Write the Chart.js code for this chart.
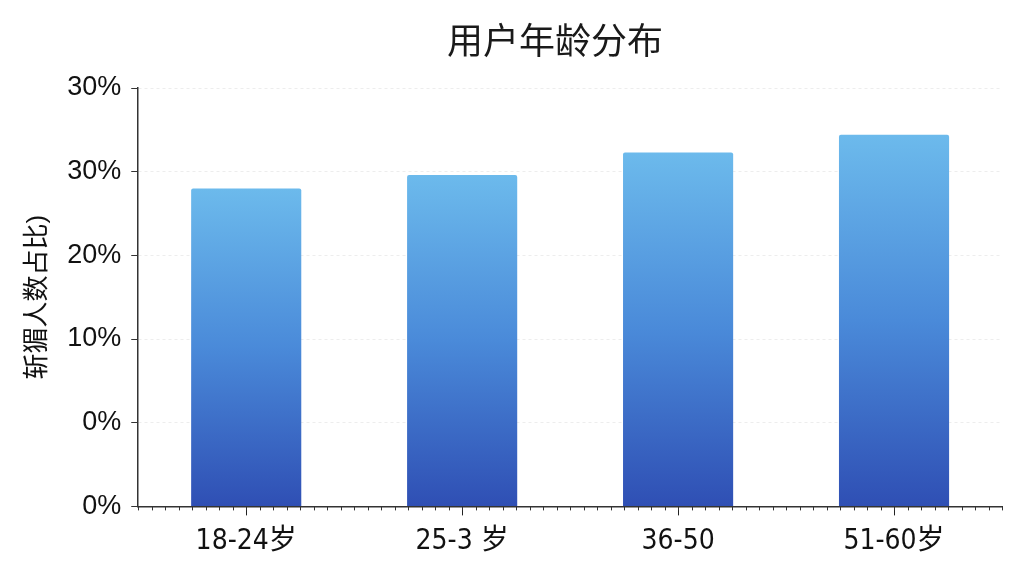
<!DOCTYPE html>
<html>
<head>
<meta charset="utf-8">
<script src="https://cdn.jsdelivr.net/npm/chart.js@4.4.1/dist/chart.umd.min.js"></script>
<style>
  html, body { margin: 0; padding: 0; background: #fff; }
  #wrap { position: relative; width: 1024px; height: 576px; }
  #title {
    position: absolute; top: 20px; left: 0; width: 1110px; text-align: center;
    font-family: "Liberation Sans", "Noto Sans CJK SC", sans-serif;
    font-size: 36px; line-height: 44px; color: #1a1a1a;
  }
</style>
</head>
<body>
<div id="wrap">
  <div id="title">用户年龄分布</div>
  <canvas id="chart" width="1024" height="576"></canvas>
</div>
<script>
const categories = ["18-24岁", "25-3 岁", "36-50", "51-60岁"];
const shares = [28.0, 29.6, 32.3, 34.4];
const yTickLabels = ["0%", "0%", "10%", "20%", "30%", "30%"];
const yTitle = "斩猸人数占比)";

const fontFamily = '"Liberation Sans", "Noto Sans CJK SC", sans-serif';

function barGradient(context) {
  const chart = context.chart;
  const y = chart.scales.y;
  if (!y || !chart.chartArea) return '#4a88d8';
  const top = y.getPixelForValue(context.raw);
  const bottom = y.getPixelForValue(-10);
  if (!isFinite(top) || !isFinite(bottom)) return '#4a88d8';
  const g = chart.ctx.createLinearGradient(0, top, 0, bottom);
  g.addColorStop(0, '#6cbaec');
  g.addColorStop(0.5, '#4a8ad9');
  g.addColorStop(1, '#2f4fb4');
  return g;
}

// small ticks along the category axis
const minorTicks = {
  id: 'minorTicks',
  afterDraw(chart) {
    const x = chart.scales.x;
    const area = chart.chartArea;
    const step = (x.getPixelForValue(1) - x.getPixelForValue(0)) / 16;
    const ctx = chart.ctx;
    ctx.save();
    ctx.strokeStyle = '#333';
    ctx.lineWidth = 1;
    for (let px = x.getPixelForValue(0) - 8 * step; px <= area.right + 0.5; px += step) {
      ctx.beginPath();
      ctx.moveTo(Math.round(px) + 0.5, area.bottom);
      ctx.lineTo(Math.round(px) + 0.5, area.bottom + 4);
      ctx.stroke();
    }
    ctx.restore();
  }
};

new Chart(document.getElementById('chart'), {
  type: 'bar',
  data: {
    labels: categories,
    datasets: [{
      data: shares,
      base: -10,
      backgroundColor: barGradient,
      borderRadius: { topLeft: 2, topRight: 2 },
      borderSkipped: 'bottom',
      categoryPercentage: 1,
      barPercentage: 0.51
    }]
  },
  options: {
    responsive: false,
    animation: false,
    layout: { padding: { top: 88, right: 22, bottom: 7, left: 22 } },
    plugins: {
      legend: { display: false },
      tooltip: { enabled: false },
      title: { display: false }
    },
    scales: {
      x: {
        grid: {
          display: true,
          drawOnChartArea: false,
          offset: false,
          tickLength: 9,
          tickColor: '#222'
        },
        border: { color: '#333', width: 1.5 },
        ticks: {
          color: '#111',
          padding: 10,
          font: { family: '"DejaVu Sans Condensed", "Noto Sans CJK SC", sans-serif', size: 28 }
        }
      },
      y: {
        min: -10,
        max: 40,
        ticks: {
          stepSize: 10,
          color: '#111',
          padding: 10,
          font: { family: fontFamily, size: 27 },
          callback: (v, i) => yTickLabels[i]
        },
        grid: {
          color: 'rgba(0,0,0,0.07)',
          tickColor: '#333',
          tickLength: 7
        },
        border: { color: '#333', width: 1.5, dash: [3, 3] },
        title: {
          display: true,
          text: yTitle,
          color: '#111',
          padding: { top: 0, bottom: 4 },
          font: { family: fontFamily, size: 26 }
        }
      }
    }
  },
  plugins: [minorTicks]
});
</script>
</body>
</html>
